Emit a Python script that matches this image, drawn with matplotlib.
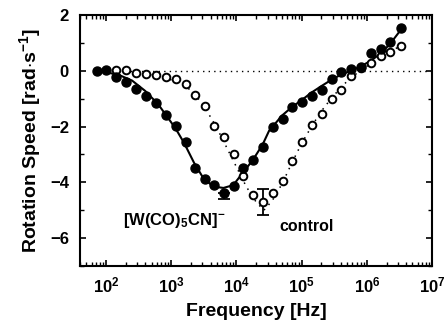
import numpy as np
import matplotlib
matplotlib.use("Agg")
import matplotlib.pyplot as plt
from matplotlib.ticker import LogLocator, MultipleLocator, NullFormatter

plt.rcParams['font.family'] = ['Liberation Sans', 'DejaVu Sans']
plt.rcParams['font.weight'] = 'bold'
plt.rcParams['axes.labelweight'] = 'bold'
plt.rcParams['mathtext.fontset'] = 'custom'
plt.rcParams['mathtext.rm'] = 'Liberation Sans:bold'
plt.rcParams['mathtext.bf'] = 'Liberation Sans:bold'
plt.rcParams['mathtext.default'] = 'bf'

# measured points, log10 of frequency in Hz
logf_w = [1.857, 2.0, 2.153, 2.306, 2.459, 2.612, 2.760, 2.913, 3.066, 3.219, 3.362,
          3.510, 3.663, 3.811, 3.959, 4.107, 4.255, 4.408, 4.561, 4.714, 4.857, 5.010,
          5.158, 5.306, 5.459, 5.607, 5.760, 5.913, 6.066, 6.219, 6.362, 6.526]
speed_w = [0.0, 0.02, -0.22, -0.39, -0.66, -0.90, -1.17, -1.57, -1.99, -2.55, -3.50,
           -3.89, -4.11, -4.38, -4.14, -3.50, -3.21, -2.73, -2.03, -1.71, -1.29, -1.11,
           -0.90, -0.69, -0.28, -0.04, 0.06, 0.14, 0.65, 0.77, 1.03, 1.53]

logf_c = [2.153, 2.306, 2.459, 2.612, 2.760, 2.913, 3.066, 3.219, 3.362, 3.510, 3.663,
          3.811, 3.959, 4.107, 4.255, 4.408, 4.561, 4.714, 4.857, 5.010, 5.158, 5.306,
          5.459, 5.607, 5.760, 5.913, 6.066, 6.219, 6.362, 6.526]
speed_c = [0.02, 0.02, -0.06, -0.10, -0.16, -0.22, -0.30, -0.48, -0.85, -1.27, -1.99,
           -2.37, -2.99, -3.78, -4.44, -4.70, -4.38, -3.96, -3.24, -2.57, -1.95, -1.55,
           -1.02, -0.67, -0.19, 0.11, 0.29, 0.53, 0.68, 0.90]

# error bars
err_w_logf, err_w_y, err_w_lo = 3.811, -4.38, 0.22
err_c_logf, err_c_y, err_c = 4.408, -4.70, 0.48

# fitted curves
fit_w_logf = [1.86, 2.0, 2.2, 2.4, 2.6, 2.8, 3.0, 3.1, 3.2, 3.35, 3.5, 3.65, 3.8, 3.95,
              4.1, 4.25, 4.4, 4.5, 4.7, 4.85, 5.0, 5.15, 5.3, 5.45, 5.6, 5.75, 5.9,
              6.05, 6.2, 6.35, 6.53]
fit_w_y = [0.0, -0.05, -0.15, -0.35, -0.72, -1.2, -1.85, -2.2, -2.6, -3.3, -3.88, -4.15,
           -4.2, -4.1, -3.65, -3.2, -2.65, -2.15, -1.6, -1.3, -1.05, -0.78, -0.55, -0.33,
           -0.14, 0.0, 0.15, 0.35, 0.6, 0.95, 1.5]

fit_c_logf = [2.15, 2.6, 2.9, 3.1, 3.25, 3.4, 3.55, 3.7, 3.85, 4.0, 4.15, 4.3, 4.42,
              4.55, 4.7, 4.85, 5.0, 5.15, 5.3, 5.45, 5.6, 5.75, 5.9, 6.05, 6.2, 6.35, 6.53]
fit_c_y = [0.0, -0.1, -0.25, -0.4, -0.6, -0.95, -1.45, -2.05, -2.75, -3.45, -4.15, -4.7,
           -5.0, -4.65, -4.05, -3.3, -2.6, -2.0, -1.45, -1.0, -0.6, -0.25, 0.0, 0.25,
           0.5, 0.7, 0.9]

fig = plt.figure(figsize=(4.45, 3.28), dpi=100)
ax = fig.add_axes([0.180, 0.189, 0.791, 0.765])

ax.plot([10 ** 1.86, 1e7], [0, 0], color='k', linestyle=(0, (1, 3)), linewidth=1.0)
ax.plot(10 ** np.array(fit_w_logf), fit_w_y, color='k', linewidth=1.5)
ax.plot(10 ** np.array(fit_c_logf), fit_c_y, color='k', linestyle=(0, (1, 3.5)), linewidth=1.1)

ax.errorbar([10 ** err_w_logf], [err_w_y], yerr=[[err_w_lo], [0]], fmt='none',
            ecolor='k', elinewidth=1.3, capsize=4, capthick=1.3)
ax.errorbar([10 ** err_c_logf], [err_c_y], yerr=err_c, fmt='none',
            ecolor='k', elinewidth=1.3, capsize=4, capthick=1.3)

ax.plot(10 ** np.array(logf_c), speed_c, linestyle='none', marker='o', markersize=5.5,
        markerfacecolor='white', markeredgecolor='k', markeredgewidth=1.4)
ax.plot(10 ** np.array(logf_w), speed_w, linestyle='none', marker='o', markersize=6.5,
        color='k')

ax.text(184, -5.36, r"[W(CO)$_{\mathbf{5}}$CN]$^{\mathbf{-}}$", fontsize=12,
        va='center', ha='left')
ax.text(45000, -5.6, "control", fontsize=11.5, va='center', ha='left')

ax.set_xscale('log')
ax.set_xlim(40, 1e7)
ax.set_ylim(-7, 2)
ax.set_yticks([2, 0, -2, -4, -6])
ax.set_yticklabels(['2', '0', '\u22122', '\u22124', '\u22126'])
ax.yaxis.set_minor_locator(MultipleLocator(1))
ax.xaxis.set_major_locator(LogLocator(base=10, numticks=10))
ax.xaxis.set_minor_locator(LogLocator(base=10, subs=np.arange(2, 10), numticks=20))
ax.xaxis.set_minor_formatter(NullFormatter())

ax.tick_params(which='both', direction='in', top=True, right=True, labelsize=12)
ax.tick_params(which='major', length=4, width=1.2)
ax.tick_params(which='minor', length=3, width=1.0)
ax.tick_params(axis='x', which='major', pad=7)
ax.tick_params(axis='y', which='major', pad=8)
for s in ax.spines.values():
    s.set_linewidth(1.5)

ax.set_xlabel("Frequency [Hz]", fontsize=14, labelpad=5)
ax.set_ylabel(r"Rotation Speed [rad$\cdot$s$^{\mathbf{-1}}$]", fontsize=14, labelpad=5)

fig.savefig("out.png", dpi=100)
